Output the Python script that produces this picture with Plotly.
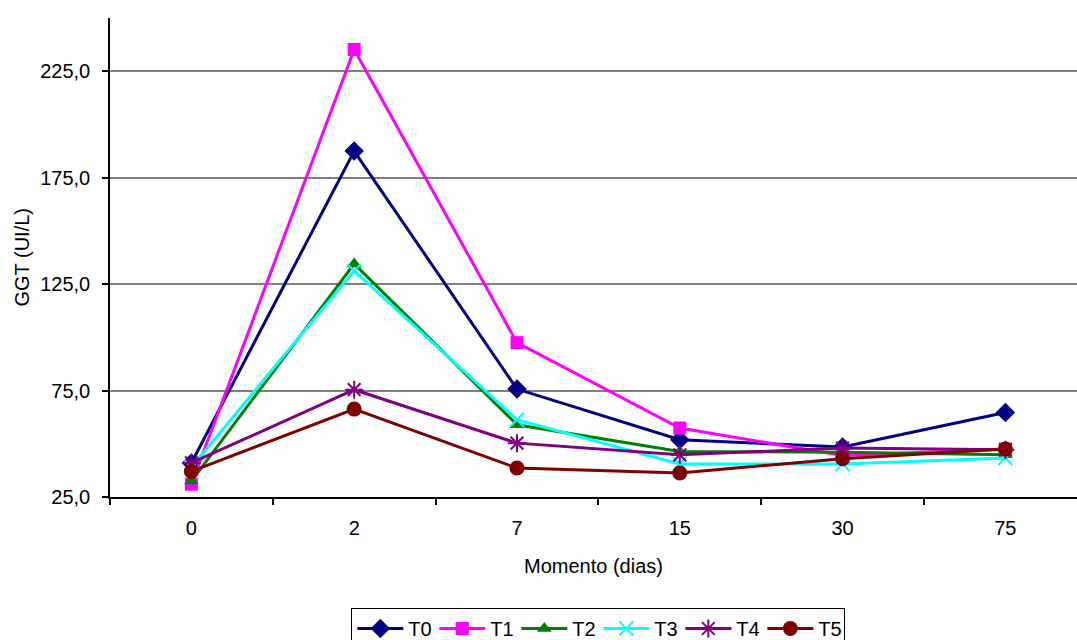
import plotly.graph_objects as go

# GGT (UI/L) per treatment group over the sampling days
momentos = ["0", "2", "7", "15", "30", "75"]
t0 = [41.0, 187.5, 75.7, 51.9, 48.5, 64.7]
t1 = [31.0, 235.2, 97.5, 57.4, 44.5, 47.5]
t2 = [32.5, 134.5, 58.9, 46.4, 46.0, 44.8]
t3 = [39.0, 131.2, 61.3, 40.5, 40.5, 43.3]
t4 = [41.0, 75.4, 50.3, 44.8, 48.0, 47.2]
t5 = [37.0, 66.3, 38.6, 36.3, 43.0, 47.5]

y_ticks = [25, 75, 125, 175, 225]

series = [
    ("T0", t0, "#000080", dict(symbol="diamond", size=15)),
    ("T1", t1, "#FF00FF", dict(symbol="square", size=13)),
    ("T2", t2, "#008000", dict(symbol="triangle-up", size=13)),
    ("T3", t3, "#00FFFF", dict(symbol="x-thin", size=14)),
    ("T4", t4, "#800080", dict(symbol="asterisk", size=15)),
    ("T5", t5, "#800000", dict(symbol="circle", size=15)),
]

fig = go.Figure()
for name, vals, color, mk in series:
    marker = dict(color=color, **mk)
    if mk["symbol"] in ("x-thin", "asterisk"):
        marker["line"] = dict(color=color, width=2)
    else:
        marker["line"] = dict(width=0)
    fig.add_trace(go.Scatter(
        x=momentos, y=vals, name=name, mode="lines+markers",
        line=dict(color=color, width=3), marker=marker,
    ))

font = dict(family="Liberation Sans, Arial, sans-serif", size=20, color="#000000")

fig.update_layout(
    width=1077, height=640,
    margin=dict(l=110, r=0, t=18, b=143, autoexpand=False),
    plot_bgcolor="white", paper_bgcolor="white",
    font=font,
    separators=",.",
    showlegend=True,
    legend=dict(
        orientation="h", x=0.505, xanchor="center",
        yref="container", y=(640 - 608) / 640, yanchor="top",
        bordercolor="#000000", borderwidth=1, bgcolor="white",
        font=font, itemwidth=46, entrywidth=21, entrywidthmode="pixels",
        traceorder="normal",
    ),
    xaxis=dict(
        type="category", range=[-0.5, 5.44],
        showline=True, linecolor="#000000", linewidth=1.5,
        ticks="outside", ticklen=6, tickcolor="#000000", tickwidth=1.5,
        tickson="boundaries", showgrid=False, zeroline=False,
        ticklabelstandoff=12,
    ),
    yaxis=dict(
        range=[25, 250], tickvals=y_ticks, tickformat=".1f",
        showline=True, linecolor="#000000", linewidth=1.5,
        ticks="outside", ticklen=6, tickcolor="#000000", tickwidth=1.5,
        showgrid=True, gridcolor="#808080", gridwidth=1.5, zeroline=False,
        ticklabelstandoff=8,
    ),
    annotations=[
        dict(text="GGT (UI/L)", textangle=-90, xref="paper", yref="paper",
             x=-0.092, y=0.5, xanchor="center", yanchor="middle",
             showarrow=False, font=font),
        dict(text="Momento (dias)", xref="paper", yref="paper",
             x=0.5, y=(497.3 - 566) / 479.3, xanchor="center", yanchor="middle",
             showarrow=False, font=font),
    ],
)

fig.write_html("out.html")
